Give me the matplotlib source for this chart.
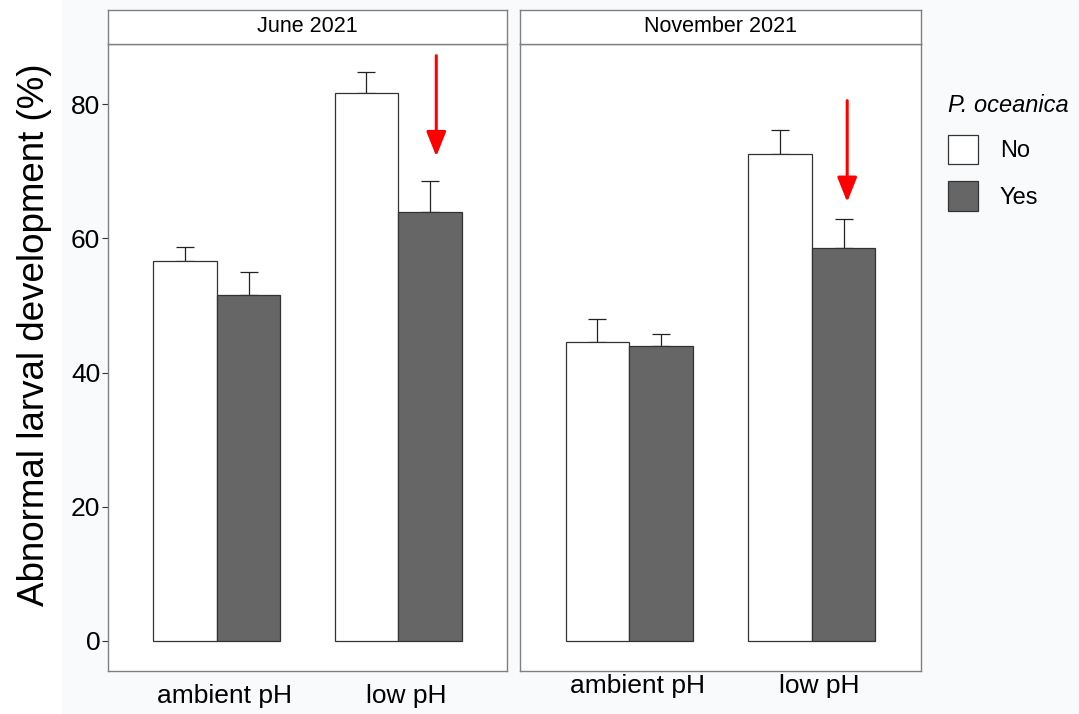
import matplotlib
matplotlib.use("Agg")
import matplotlib.pyplot as plt
import matplotlib.transforms as mtransforms
from matplotlib.patches import Rectangle, Patch
import numpy as np

plt.rcParams['font.family'] = ['Liberation Sans', 'DejaVu Sans']

# Data: abnormal larval development (%) mean and standard error
periods = ["June 2021", "November 2021"]
treatments = ["ambient pH", "low pH"]
groups = ["No", "Yes"]
mean_no = {"June 2021": [56.6, 81.6], "November 2021": [44.6, 72.5]}
mean_yes = {"June 2021": [51.6, 63.9], "November 2021": [43.9, 58.5]}
se_no = {"June 2021": [2.1, 3.2], "November 2021": [3.3, 3.6]}
se_yes = {"June 2021": [3.3, 4.6], "November 2021": [1.8, 4.3]}
yticks = [0, 20, 40, 60, 80]
legend_title = "P. oceanica"
ylabel = "Abnormal larval development (%)"

# Red arrows highlighting the P. oceanica effect under low pH
arrow_spec = {"June 2021": (2.21, 87.2, 72.2), "November 2021": (2.195, 80.5, 65.4)}

fill_colors = {"No": "white", "Yes": "#666666"}
edge_color = "#333333"
frame_color = "#808080"

W, H = 1079, 714
fig = plt.figure(figsize=(W / 100, H / 100), dpi=100)
fig.patch.set_facecolor("white")
# faint backdrop behind the plotting area
fig.add_artist(Rectangle((62 / W, 0), 1 - 62 / W, 1, transform=fig.transFigure,
                         facecolor="#f9fafb", edgecolor="none", zorder=-10))

panel_px = [(108, 507), (520, 921)]
top_px, bot_px = 44, 671
strip_top = 10
label_y_pad = [9, 2]

bar_w = 0.35
x = np.arange(1, len(treatments) + 1)

for i, period in enumerate(periods):
    x0, x1 = panel_px[i]
    ax = fig.add_axes([x0 / W, 1 - bot_px / H, (x1 - x0) / W, (bot_px - top_px) / H])
    ax.set_facecolor("white")
    for grp, means, ses, off in (("No", mean_no[period], se_no[period], -bar_w / 2),
                                 ("Yes", mean_yes[period], se_yes[period], bar_w / 2)):
        xs = x + off
        ax.errorbar(xs, means, yerr=[np.zeros(len(ses)), ses], fmt="none",
                    ecolor="#222222", elinewidth=0.9, capsize=6.5, capthick=0.9, zorder=1)
        ax.bar(xs, means, width=bar_w, color=fill_colors[grp], edgecolor=edge_color,
               linewidth=0.9, zorder=2)
    ax.set_xlim(0.4, 2.6)
    ax.set_ylim(-4.47, 88.94)
    ax.set_xticks(x)
    ax.set_xticklabels(treatments, fontsize=19)
    ax.tick_params(axis="x", length=0, pad=label_y_pad[i])
    shift = mtransforms.ScaledTranslation(8 / 100, 0, fig.dpi_scale_trans)
    for lab in ax.get_xticklabels():
        lab.set_transform(lab.get_transform() + shift)
    if i == 0:
        ax.set_yticks(yticks)
        ax.set_yticklabels([str(v) for v in yticks], fontsize=19)
        ax.tick_params(axis="y", length=4.5, width=0.8, color="#333333", pad=1)
    else:
        ax.set_yticks([])
    for sp in ax.spines.values():
        sp.set_color(frame_color)
        sp.set_linewidth(1.0)

    xa, ytop, ytip = arrow_spec[period]
    ax.annotate("", xy=(xa, ytip), xytext=(xa, ytop),
                arrowprops=dict(arrowstyle="-|>,head_length=0.75,head_width=0.3",
                                color="#ff0000", lw=2.2, shrinkA=0, shrinkB=0,
                                mutation_scale=20), zorder=5)

    # facet strip
    sax = fig.add_axes([x0 / W, 1 - top_px / H, (x1 - x0) / W, (top_px - strip_top) / H])
    sax.set_facecolor("white")
    sax.set_xticks([])
    sax.set_yticks([])
    for sp in sax.spines.values():
        sp.set_color(frame_color)
        sp.set_linewidth(1.0)
    sax.text(0.5, 0.5, period, ha="center", va="center", fontsize=15.5,
             transform=sax.transAxes)

fig.text(35 / W, 1 - 335 / H, ylabel, rotation=90, ha="center", va="center", fontsize=26.5)

handles = [Patch(facecolor=fill_colors[g], edgecolor=edge_color, linewidth=0.9) for g in groups]
leg = fig.legend(handles, groups, loc="upper left", bbox_to_anchor=(943 / W, 1 - 89 / H),
                 frameon=False, fontsize=17, title=legend_title,
                 title_fontproperties={"style": "italic", "size": 17},
                 handlelength=1.3, handleheight=1.55, handletextpad=0.9,
                 labelspacing=0.72, borderaxespad=0, borderpad=0.2)
leg._legend_box.align = "left"
leg._legend_box.sep = 13

fig.savefig("out.png", dpi=100, facecolor=fig.get_facecolor())
